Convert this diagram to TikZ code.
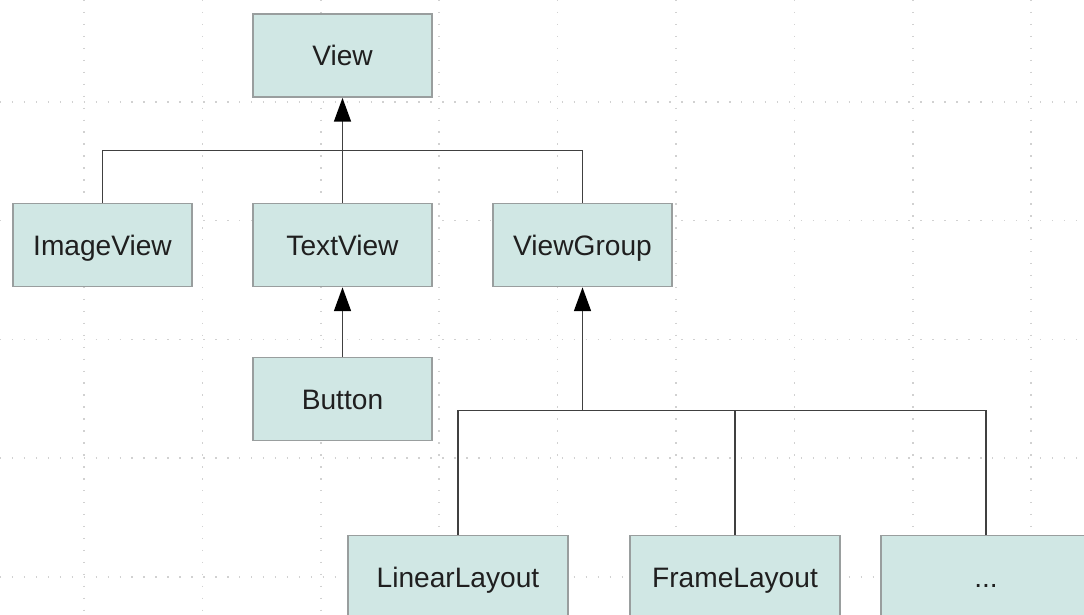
\documentclass[tikz,border=0pt]{standalone}
\usepackage{fontspec}
\setmainfont{Liberation Sans}
\usetikzlibrary{arrows.meta,calc}
\definecolor{BoxClr}{rgb}{0.816,0.906,0.894}
\definecolor{BorderClr}{rgb}{0.60,0.62,0.62}
\definecolor{LinkClr}{rgb}{0.25,0.25,0.25}
\definecolor{GridClr}{rgb}{0.82,0.82,0.82}

\begin{document}
\begin{tikzpicture}[x=0.025cm,y=-0.025cm,
  cls/.style={draw=BorderClr,line width=1.1pt,fill=BoxClr,text=black!88,
    minimum width=4.475cm,minimum height=2.075cm,inner sep=0pt,
    text height=14.3pt,text depth=0pt,
    font=\fontsize{20}{24}\selectfont},
  wide/.style={cls,minimum width=5.5cm},
  link/.style={draw=LinkClr,line width=1.4pt},
  inherit/.style={link,-{Triangle[length=17pt,width=12pt,color=black]}},
  gridline/.style={GridClr,line width=1.1pt,dash pattern=on 1pt off 7.5pt}]

% Frame of the picture.
\clip (0,0) rectangle (1084,615);
\useasboundingbox (0,0) rectangle (1084,615);

% Dotted background grid.
\foreach \i in {0,...,8}
  \draw[gridline] (84+118.4*\i,0) -- (84+118.4*\i,615);
\foreach \j in {0,...,4}
  \draw[gridline] (0,102+118.7*\j) -- (1084,102+118.7*\j);

% Classes.
\node[cls] (View)      at (342.5,55.5) {View};
\node[cls] (ImageView) at (102.5,245)  {ImageView};
\node[cls] (TextView)  at (342.5,245)  {TextView};
\node[cls] (ViewGroup) at (582.5,245)  {ViewGroup};
\node[cls] (Button)    at (342.5,399)  {Button};

\node[wide] (LinearLayout) at (458,577) {LinearLayout};
\node[cls,minimum width=5.25cm] (FrameLayout) at (735,577) {FrameLayout};
\node[cls,minimum width=5.25cm] (More)        at (986,577) {...};

% Junctions of the inheritance lines.
\coordinate (ViewBar)  at (342.5,150.5);
\coordinate (GroupBar) at (582.5,410.5);

% Children of View.
\draw[link] (ImageView.north) |- (ViewGroup.north |- ViewBar) -- (ViewGroup.north);
\draw[inherit] (TextView.north) -- (View.south);

% Children of TextView.
\draw[inherit] (Button.north) -- (TextView.south);

% Children of ViewGroup.
\draw[link] (LinearLayout.north) |- (More.north |- GroupBar) -- (More.north);
\draw[link] (FrameLayout.north) -- (FrameLayout.north |- GroupBar);
\draw[inherit] (GroupBar) -- (ViewGroup.south);

\end{tikzpicture}
\end{document}
